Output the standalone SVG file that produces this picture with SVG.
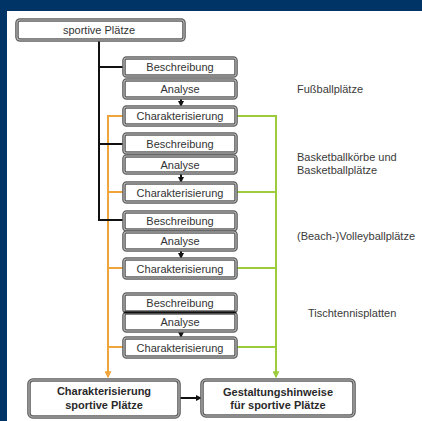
<svg xmlns="http://www.w3.org/2000/svg" width="422" height="421" viewBox="0 0 422 421">
<defs>
<style>
.bo{fill:#fff;stroke:#5e5e5e;stroke-width:3.6}
.bi{fill:none;stroke:#b8b8b8;stroke-width:1.1}
.t{font-family:"Liberation Sans",Arial,sans-serif;font-size:11px;fill:#333;text-anchor:middle}
.tb{font-family:"Liberation Sans",Arial,sans-serif;font-size:11px;font-weight:bold;fill:#2a2a2a;text-anchor:middle}
.lab{font-family:"Liberation Sans",Arial,sans-serif;font-size:11px;fill:#3a3a3a}
.k{fill:none;stroke:#111;stroke-width:2}
.o{fill:none;stroke:#f0a53a;stroke-width:2}
.g{fill:none;stroke:#9ccc3c;stroke-width:2}
</style>
<marker id="ak" viewBox="0 0 6 6" refX="5" refY="3" markerWidth="6" markerHeight="6" markerUnits="userSpaceOnUse" orient="auto"><path d="M0,0 L6,3 L0,6 z" fill="#111"/></marker>
<marker id="ao" viewBox="0 0 6 6" refX="5" refY="3" markerWidth="7" markerHeight="7" markerUnits="userSpaceOnUse" orient="auto"><path d="M0,0 L6,3 L0,6 z" fill="#f0a53a"/></marker>
<marker id="ag" viewBox="0 0 6 6" refX="5" refY="3" markerWidth="7" markerHeight="7" markerUnits="userSpaceOnUse" orient="auto"><path d="M0,0 L6,3 L0,6 z" fill="#9ccc3c"/></marker>
</defs>
<rect x="0" y="0" width="422" height="421" fill="#013466"/>
<rect x="7" y="11" width="415" height="410" fill="#fff"/>

<g id="connectors">
<path class="o" d="M124,116 H108 V377" marker-end="url(#ao)"/>
<path class="o" d="M108,192 H124 M108,268 H124 M108,347 H124"/>
<path class="g" d="M236,116 H276 V377" marker-end="url(#ag)"/>
<path class="g" d="M236,192 H276 M236,268 H276 M236,347 H276"/>
<path class="k" d="M99,40 V221"/>
<path class="k" d="M99,67 H124 M99,144 H124 M99,220 H124"/>
<path class="k" d="M181,98 V106" stroke-width="1.3" marker-end="url(#ak)"/>
<path class="k" d="M181,173 V182" stroke-width="1.3" marker-end="url(#ak)"/>
<path class="k" d="M181,250 V258" stroke-width="1.3" marker-end="url(#ak)"/>
<path class="k" d="M181,331 V337" stroke-width="1.3" marker-end="url(#ak)"/>
<path class="k" d="M179,398 H201" stroke-width="1.6" marker-end="url(#ak)"/>
</g>

<g id="n_top"><rect class="bo" x="17" y="20" width="167" height="20" rx="3"/><rect class="bi" x="17" y="20" width="167" height="20" rx="3"/><text class="t" x="99" y="34" font-size="13.5">sportive Plätze</text></g>

<g id="n_b1"><rect class="bo" x="124" y="58" width="112" height="18" rx="2.5"/><rect class="bi" x="124" y="58" width="112" height="18" rx="2.5"/><text class="t" x="180" y="71">Beschreibung</text></g>
<g id="n_a1"><rect class="bo" x="124" y="80" width="112" height="18" rx="2.5"/><rect class="bi" x="124" y="80" width="112" height="18" rx="2.5"/><text class="t" x="180" y="93">Analyse</text></g>
<g id="n_c1"><rect class="bo" x="124" y="107" width="112" height="18" rx="2.5"/><rect class="bi" x="124" y="107" width="112" height="18" rx="2.5"/><text class="t" x="180" y="120">Charakterisierung</text></g>

<g id="n_b2"><rect class="bo" x="124" y="134" width="112" height="19" rx="2.5"/><rect class="bi" x="124" y="134" width="112" height="19" rx="2.5"/><text class="t" x="180" y="147.5">Beschreibung</text></g>
<g id="n_a2"><rect class="bo" x="124" y="156" width="112" height="17" rx="2.5"/><rect class="bi" x="124" y="156" width="112" height="17" rx="2.5"/><text class="t" x="180" y="168.5">Analyse</text></g>
<g id="n_c2"><rect class="bo" x="124" y="183" width="112" height="19" rx="2.5"/><rect class="bi" x="124" y="183" width="112" height="19" rx="2.5"/><text class="t" x="180" y="196.5">Charakterisierung</text></g>

<g id="n_b3"><rect class="bo" x="124" y="212" width="112" height="18" rx="2.5"/><rect class="bi" x="124" y="212" width="112" height="18" rx="2.5"/><text class="t" x="180" y="225">Beschreibung</text></g>
<g id="n_a3"><rect class="bo" x="124" y="232" width="112" height="18" rx="2.5"/><rect class="bi" x="124" y="232" width="112" height="18" rx="2.5"/><text class="t" x="180" y="245">Analyse</text></g>
<g id="n_c3"><rect class="bo" x="124" y="259" width="112" height="19" rx="2.5"/><rect class="bi" x="124" y="259" width="112" height="19" rx="2.5"/><text class="t" x="180" y="272.5">Charakterisierung</text></g>

<g id="n_b4"><rect class="bo" x="124" y="294" width="112" height="18" rx="2.5"/><rect class="bi" x="124" y="294" width="112" height="18" rx="2.5"/><text class="t" x="180" y="307">Beschreibung</text></g>
<g id="n_a4"><rect class="bo" x="124" y="313" width="112" height="18" rx="2.5"/><rect class="bi" x="124" y="313" width="112" height="18" rx="2.5"/><line x1="124" y1="312.5" x2="236" y2="312.5" stroke="#111" stroke-width="2"/><text class="t" x="180" y="326">Analyse</text></g>
<g id="n_c4"><rect class="bo" x="124" y="338" width="112" height="19" rx="2.5"/><rect class="bi" x="124" y="338" width="112" height="19" rx="2.5"/><text class="t" x="180" y="351.5">Charakterisierung</text></g>

<g id="n_charsp"><rect class="bo" x="29" y="380" width="150" height="37" rx="4"/><rect class="bi" x="29" y="380" width="150" height="37" rx="4"/><text class="tb" x="104" y="395">Charakterisierung</text><text class="tb" x="104" y="409">sportive Plätze</text></g>
<g id="n_gest"><rect class="bo" x="202" y="380" width="152" height="36" rx="4"/><rect class="bi" x="202" y="380" width="152" height="36" rx="4"/><text class="tb" x="278" y="396">Gestaltungshinweise</text><text class="tb" x="278" y="409">für sportive Plätze</text></g>

<g id="labels">
<text class="lab" x="297" y="93">Fußballplätze</text>
<text class="lab" x="297" y="161">Basketballkörbe und</text>
<text class="lab" x="297" y="174">Basketballplätze</text>
<text class="lab" x="297" y="239.5">(Beach-)Volleyballplätze</text>
<text class="lab" x="308" y="317">Tischtennisplatten</text>
</g>
</svg>
